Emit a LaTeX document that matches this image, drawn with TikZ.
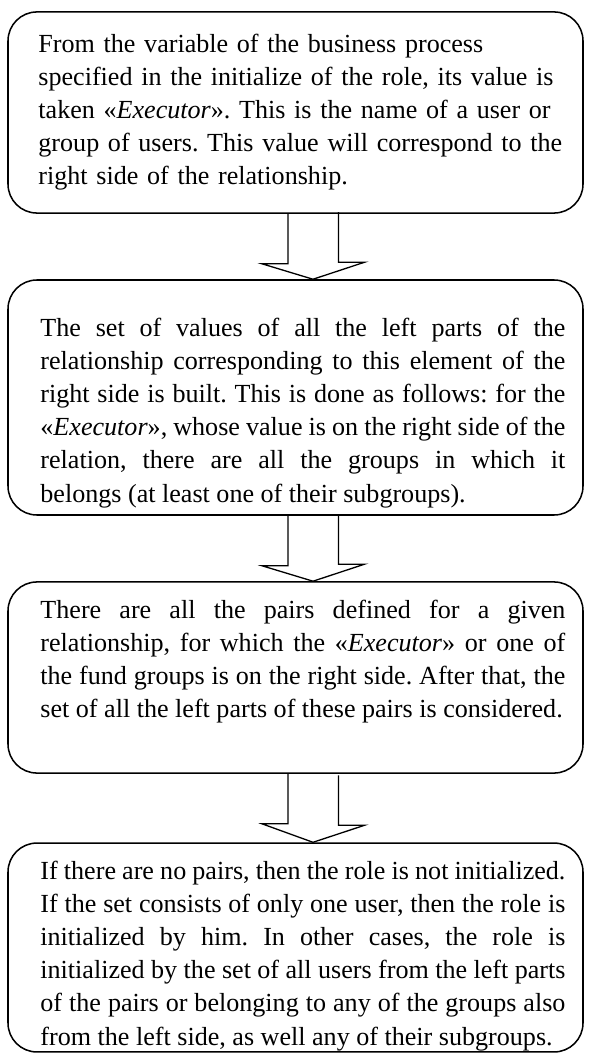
\documentclass[tikz,border=0pt]{standalone}
\usepackage{fontspec}
\setmainfont{Liberation Serif}
\usepackage{tikz}
\usetikzlibrary{calc,positioning}
\hyphenpenalty=10000
\tolerance=9999
\frenchspacing

\begin{document}
\begin{tikzpicture}[x=0.46pt,y=-0.46pt,
    stepbox/.style={draw,line width=0.7pt,rounded corners=13.3pt,minimum width=264.5pt,inner sep=0pt},
    steptext/.style={anchor=north west,inner sep=0pt,text width=241.5pt,font=\fontsize{12pt}{15.2pt}\selectfont},
    blockarrow/.style={draw,line width=0.6pt,line join=miter}]
  \useasboundingbox (0,0) rectangle (591,1061);
  % (1) Executor is taken
  \node[stepbox,minimum height=92.5pt] (b1) at (295.5,112.5) {};
  \node[steptext,text width=252pt,align=left] (t1) at (38,34) {From the variable of the business process\\
    specified in the initialize of the role, its value is\\
    taken «\textit{Executor}». This is the name of a user or\\
    group of users. This value will correspond to the\\
    right side of the relationship.};
  % (2) Left parts are built
  \node[stepbox,minimum height=108.1pt] (b2) at (295.5,397.5) {};
  \node[steptext,align=justify] (t2) at (40,318) {The set of values of all the left parts of the\linebreak
    relationship corresponding to this element of the\linebreak
    right side is built. This is done as follows: for the\linebreak
    «\textit{Executor}», whose value is on the right side of the\linebreak
    relation, there are all the groups in which it\linebreak
    belongs (at least one of their subgroups).};
  % (3) Pairs are found
  \node[stepbox,minimum height=87.9pt] (b3) at (295.5,677.5) {};
  \node[steptext,align=justify] (t3) at (40,600) {There are all the pairs defined for a given\linebreak
    relationship, for which the «\textit{Executor}» or one of\linebreak
    the fund groups is on the right side. After that, the\linebreak
    set of all the left parts of these pairs is considered.};
  % (4) Role is initialized
  \node[stepbox,minimum height=96.1pt] (b4) at (295.5,947.5) {};
  \node[steptext,align=justify] (t4) at (40,861) {If there are no pairs, then the role is not initialized.\linebreak
    If the set consists of only one user, then the role is\linebreak
    initialized by him. In other cases, the role is\linebreak
    initialized by the set of all users from the left parts\linebreak
    of the pairs or belonging to any of the groups also\linebreak
    from the left side, as well any of their subgroups.};
  % block arrows between the steps
  \draw[blockarrow] ($(b1.south)+(-7.5,0)$) -- ++(0,50) -- ++(-26,0) -- ($(b2.north)+(17.5,0)$) -- ++(51.5,-17) -- ++(-26,0) -- ++(0,-50);
  \draw[blockarrow] ($(b2.south)+(-7.5,0)$) -- ++(0,50) -- ++(-26,0) -- ($(b3.north)+(17.5,0)$) -- ++(51.5,-17) -- ++(-26,0) -- ++(0,-50);
  \draw[blockarrow] ($(b3.south)+(-7.5,0)$) -- ++(0,50) -- ++(-26,0) -- ($(b4.north)+(17.5,0)$) -- ++(51.5,-17) -- ++(-26,0) -- ++(0,-50);
\end{tikzpicture}
\end{document}
